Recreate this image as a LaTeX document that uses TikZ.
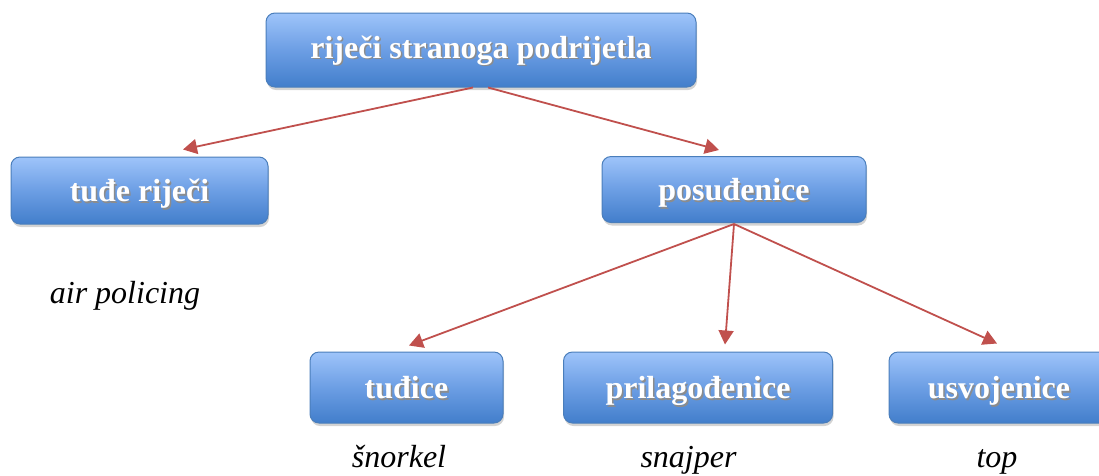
\documentclass[tikz,border=0pt]{standalone}
\usepackage{fontspec}
\setmainfont{Liberation Serif}
\usetikzlibrary{arrows.meta,shadows}
\definecolor{boxtop}{RGB}{158,196,250}
\definecolor{boxmid}{RGB}{108,158,228}
\definecolor{boxbot}{RGB}{66,126,203}
\definecolor{boxline}{RGB}{74,126,187}
\definecolor{arr}{RGB}{192,80,77}
\newcommand\shadowtext[1]{\rlap{\kern1.5pt\raisebox{-1.5pt}{\textcolor{black!45}{#1}}}\textcolor{white}{#1}}
\begin{document}
\begin{tikzpicture}[x=1pt,y=-1pt,
 box/.style={draw=boxline, line width=1pt, rounded corners=9pt,
   top color=boxtop, bottom color=boxbot, middle color=boxmid,
   drop shadow={opacity=0.35,shadow xshift=1pt,shadow yshift=-3pt},
   font=\fontsize{32}{36}\selectfont\bfseries, inner sep=0pt,
   text height=26pt, text depth=4pt},
 ex/.style={font=\fontsize{32}{36}\selectfont\itshape, anchor=base, inner sep=0pt},
 link/.style={draw=arr, line width=1.8pt, -{Triangle[length=14pt,width=15pt]}}]
\useasboundingbox (0,0) rectangle (1099,475);
\node[box, minimum width=430pt, minimum height=74pt, text height=23pt, text depth=7pt] (root) at (481,50) {\shadowtext{riječi stranoga podrijetla}};
\node[box, minimum width=257pt, minimum height=67pt] (tude) at (139.5,190.5) {\shadowtext{tuđe riječi}};
\node[box, minimum width=264pt, minimum height=66pt] (posud) at (734,189.5) {\shadowtext{posuđenice}};
\node[box, minimum width=193pt, minimum height=71pt] (tudice) at (406.5,387.5) {\shadowtext{tuđice}};
\node[box, minimum width=269pt, minimum height=71pt] (prilag) at (698,387.5) {\shadowtext{prilagođenice}};
\node[box, minimum width=220pt, minimum height=71pt] (usvoj) at (999,387.5) {\shadowtext{usvojenice}};

\node[ex] (ex1) at (125,303) {air policing};
\node[ex] (ex2) at (399,467) {šnorkel};
\node[ex] (ex3) at (688.5,467) {snajper};
\node[ex] (ex4) at (997,467) {top};

\draw[link] ([xshift=-8pt]root.south) -- ([xshift=43.5pt,yshift=7pt]tude.north);
\draw[link] ([xshift=7pt]root.south) -- ([xshift=-15pt,yshift=6pt]posud.north);
\draw[link] ([yshift=-1pt]posud.south) -- ([xshift=2.5pt,yshift=6pt]tudice.north);
\draw[link] ([yshift=-1pt]posud.south) -- ([xshift=27pt,yshift=7pt]prilag.north);
\draw[link] ([yshift=-1pt]posud.south) -- ([xshift=-2pt,yshift=8pt]usvoj.north);
\end{tikzpicture}
\end{document}
